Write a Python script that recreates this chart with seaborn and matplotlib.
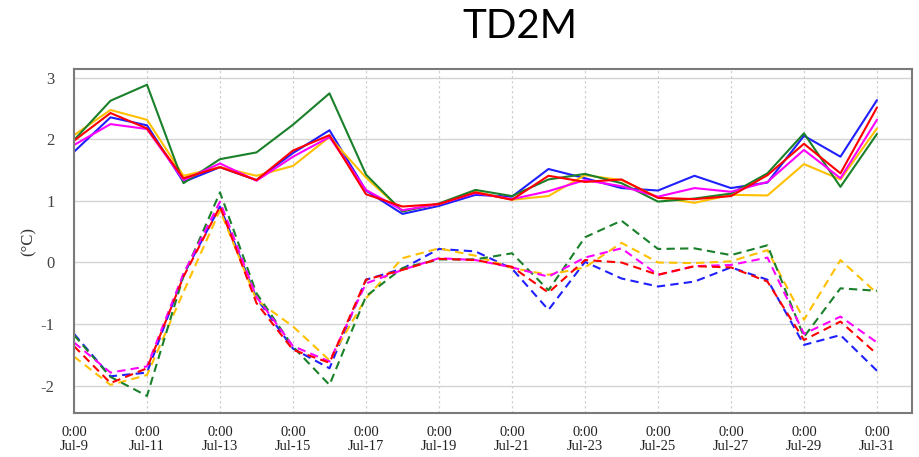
import matplotlib
matplotlib.use("Agg")
import matplotlib.pyplot as plt
import seaborn as sns
import pandas as pd
import numpy as np

# ---- data ----
days = list(range(23))  # Jul-9 .. Jul-31, daily at 0:00
tick_days = list(range(0, 23, 2))
tick_labels = ["0:00\nJul-%d" % (9 + d) for d in tick_days]

# solid series
blue_solid = [1.80, 2.36, 2.23, 1.31, 1.55, 1.34, 1.78, 2.15, 1.17, 0.79, 0.92, 1.10,
              1.07, 1.52, 1.37, 1.21, 1.17, 1.41, 1.21, 1.30, 2.06, 1.72, 2.64]
orange_solid = [2.07, 2.48, 2.32, 1.41, 1.55, 1.41, 1.57, 2.04, 1.38, 0.84, 0.95, 1.15,
                1.02, 1.08, 1.42, 1.34, 1.06, 0.97, 1.10, 1.09, 1.60, 1.35, 2.18]
green_solid = [1.99, 2.63, 2.89, 1.29, 1.68, 1.79, 2.24, 2.75, 1.43, 0.83, 0.96, 1.18,
               1.08, 1.35, 1.44, 1.29, 0.99, 1.04, 1.12, 1.45, 2.10, 1.23, 2.09]
magenta_solid = [1.91, 2.25, 2.17, 1.34, 1.61, 1.33, 1.72, 2.04, 1.18, 0.85, 0.95, 1.13,
                 1.03, 1.16, 1.34, 1.24, 1.07, 1.21, 1.15, 1.31, 1.83, 1.37, 2.32]
red_solid = [1.98, 2.43, 2.18, 1.37, 1.55, 1.34, 1.82, 2.07, 1.11, 0.91, 0.95, 1.14,
             1.02, 1.41, 1.31, 1.35, 1.05, 1.03, 1.08, 1.42, 1.93, 1.45, 2.52]

# dashed series
blue_dash = [-1.16, -1.85, -1.79, -0.20, 0.91, -0.58, -1.40, -1.72, -0.28, -0.10, 0.22, 0.18,
             -0.10, -0.77, 0.01, -0.26, -0.39, -0.31, -0.08, -0.28, -1.34, -1.18, -1.76]
orange_dash = [-1.53, -1.99, -1.83, -0.48, 0.85, -0.61, -1.04, -1.59, -0.58, 0.07, 0.23, 0.11,
               -0.09, -0.20, -0.08, 0.32, 0.00, -0.01, 0.02, 0.20, -0.93, 0.04, -0.50]
green_dash = [-1.18, -1.86, -2.17, -0.22, 1.14, -0.50, -1.37, -1.99, -0.55, -0.09, 0.05, 0.05,
              0.15, -0.45, 0.41, 0.68, 0.22, 0.23, 0.12, 0.28, -1.21, -0.42, -0.46]
magenta_dash = [-1.30, -1.79, -1.69, -0.18, 0.99, -0.56, -1.36, -1.61, -0.34, -0.12, 0.07, 0.04,
                -0.08, -0.23, 0.08, 0.23, -0.20, -0.06, -0.04, 0.08, -1.16, -0.88, -1.30]
red_dash = [-1.36, -1.96, -1.72, -0.23, 0.91, -0.66, -1.42, -1.63, -0.28, -0.12, 0.06, 0.04,
            -0.07, -0.49, 0.04, 0.00, -0.20, -0.06, -0.08, -0.31, -1.26, -0.96, -1.49]

title = "TD2M"
ylabel = "(°C)"

# ---- styling ----
colors = {"blue": "#1f1fff", "orange": "#ffc000", "green": "#1a8029",
          "magenta": "#ff00ff", "red": "#ff0000"}

sns.set_theme(style="white")
plt.rcParams["font.family"] = ["Liberation Serif", "DejaVu Serif"]

fig = plt.figure(figsize=(9.19, 4.57), dpi=100)
ax = fig.add_axes([74 / 919, 1 - 413 / 457, (912 - 74) / 919, (413 - 69) / 457])

solid = [("blue", blue_solid), ("orange", orange_solid), ("green", green_solid),
         ("magenta", magenta_solid), ("red", red_solid)]
dashed = [("blue", blue_dash), ("orange", orange_dash), ("green", green_dash),
          ("magenta", magenta_dash), ("red", red_dash)]

for name, vals in dashed:
    df = pd.DataFrame({"day": days, "value": vals})
    sns.lineplot(data=df, x="day", y="value", ax=ax, color=colors[name],
                 linewidth=1.5, legend=False)
    ax.lines[-1].set_linestyle((0, (4, 2.5)))
for name, vals in solid:
    df = pd.DataFrame({"day": days, "value": vals})
    sns.lineplot(data=df, x="day", y="value", ax=ax, color=colors[name],
                 linewidth=1.5, legend=False)

ax.set_xlim(0, 22.96)
ax.set_ylim(-2.447, 3.146)
ax.set_xticks(tick_days)
ax.set_xticklabels(tick_labels, fontsize=10.5, color="#222222", linespacing=1.2)
ax.set_yticks([-2, -1, 0, 1, 2, 3])
ax.set_yticklabels(["-2", "-1", "0", "1", "2", "3"], fontsize=12, color="#444444")
ax.set_xlabel("")
ax.set_ylabel(ylabel, fontsize=12, color="#333333", labelpad=3)

ax.grid(False)
for y in [-2, -1, 0, 1, 2, 3]:
    ax.axhline(y, color="#d4d4d4", linewidth=1.0, zorder=0)
for d in tick_days:
    ax.axvline(d, color="#d0d0d0", linewidth=0.9, linestyle=(0, (2, 2)), zorder=0)

for s in ax.spines.values():
    s.set_color("#7a7a7a")
    s.set_linewidth(1.5)
    s.set_visible(True)
ax.tick_params(axis="both", which="major", direction="out", length=5, width=1.2,
               color="#444444")
ax.tick_params(axis="x", pad=4)
ax.tick_params(axis="y", pad=9)

fig.text(520 / 919, 1 - 26 / 457, title, ha="center", va="center",
         fontsize=29, family=["Lato", "DejaVu Sans"], color="black")

fig.savefig("out.png", dpi=100)
